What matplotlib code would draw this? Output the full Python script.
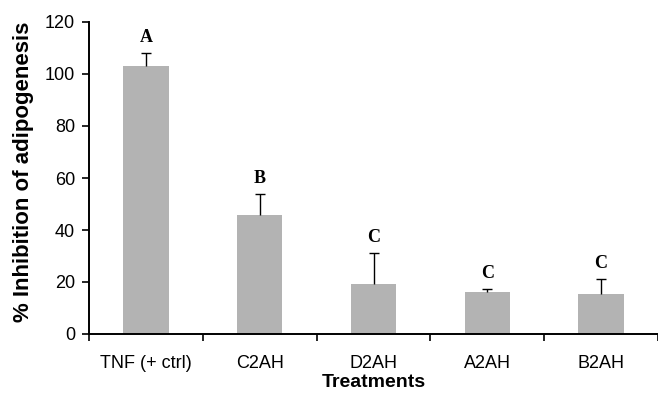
import matplotlib
matplotlib.use("Agg")
import matplotlib.pyplot as plt
import numpy as np

categories = ["TNF (+ ctrl)", "C2AH", "D2AH", "A2AH", "B2AH"]
values = [103, 45.8, 19.3, 16.2, 15.4]
errors = [5, 8.2, 12, 1, 5.6]
letters = ["A", "B", "C", "C", "C"]

plt.rcParams['font.family'] = ['Liberation Sans', 'DejaVu Sans']
fig = plt.figure(figsize=(6.58, 3.93), dpi=100)
W, H = 569, 312
ax = fig.add_axes([89/658, 1-334/393, W/658, H/393])

x = np.arange(len(categories))
ax.bar(x, values, width=0.4, color='#b3b3b3', zorder=2)
eb = ax.errorbar(x, values, yerr=[np.zeros(len(values)), errors], fmt='none',
                 ecolor='black', elinewidth=1, capsize=3.5, capthick=1, zorder=3)
# remove the lower caps (only upper error shown)
caplines = eb[1]
if len(caplines) == 2:
    caplines[0].set_visible(False)
for xi, v, e, l in zip(x, values, errors, letters):
    ax.text(xi, v + e + 6, l, ha='center', va='center', fontsize=13,
            fontweight='bold', family=['Liberation Serif', 'DejaVu Serif'])

ax.set_xlim(-0.5, len(categories) - 0.5)
ax.set_ylim(0, 120)
ax.set_yticks(np.arange(0, 121, 20))
ax.set_xticks(x)
ax.set_xticklabels(categories)
ax.set_xticks(np.arange(-0.5, len(categories), 1), minor=True)
ax.tick_params(axis='x', which='major', length=0, labelsize=13, pad=15)
ax.tick_params(axis='x', which='minor', length=5, width=1.2, direction='out')
ax.tick_params(axis='y', length=5, width=1.2, direction='out', labelsize=13, pad=5)
ax.spines['top'].set_visible(False)
ax.spines['right'].set_visible(False)
ax.spines['left'].set_linewidth(1.4)
ax.spines['bottom'].set_linewidth(1.4)
ax.set_ylabel("% Inhibition of adipogenesis", fontsize=16, fontweight='bold')
ax.set_xlabel("Treatments", fontsize=14, fontweight='bold')
ax.yaxis.set_label_coords(-(89-34)/W, 0.52)
ax.xaxis.set_label_coords(0.5, -(374-334)/H)

fig.savefig("out.png", dpi=100)
